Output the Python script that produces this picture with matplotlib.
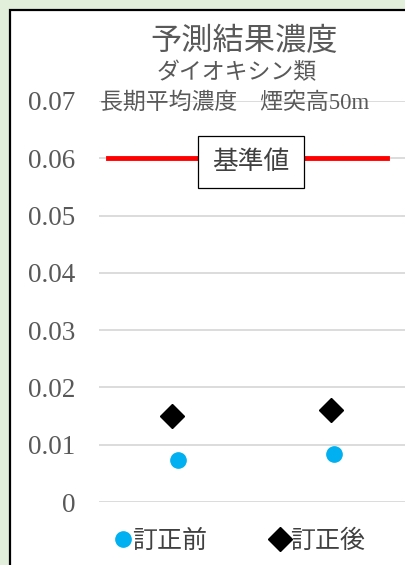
import matplotlib.pyplot as plt
import matplotlib.transforms as mtransforms
from matplotlib.patches import Rectangle

plt.rcParams['font.family'] = ['Liberation Serif', 'Noto Sans CJK JP']

# data
series_names = ['訂正前', '訂正後']
before_x = [1.0, 1.99]
before_y = [0.0073, 0.0084]
after_x = [0.96, 1.97]
after_y = [0.0150, 0.0161]
standard_value = 0.06
yticks = [0, 0.01, 0.02, 0.03, 0.04, 0.05, 0.06, 0.07]
ytick_labels = ['0', '0.01', '0.02', '0.03', '0.04', '0.05', '0.06', '0.07']

title_lines = ['予測結果濃度', 'ダイオキシン類', '長期平均濃度　煙突高50m']

text_grey = '#595959'
W, H = 406, 565

fig = plt.figure(figsize=(W / 100, H / 100), dpi=100)
fig.patch.set_facecolor('#e2efda')

# white chart area with black frame (runs off right and bottom edges)
frame = Rectangle((10 / W, -0.05), 1.0, 1 - 10 / H + 0.05, transform=fig.transFigure,
                  facecolor='white', edgecolor='black', linewidth=1.6, zorder=-1)
fig.patches.append(frame)

ax = fig.add_axes([99 / W, (H - 502) / H, 316 / W, 401 / H])
ax.set_zorder(1)
ax.set_facecolor('none')
ax.set_xlim(0.5, 2.5)
ax.set_ylim(0, 0.07)

for s in ax.spines.values():
    s.set_visible(False)
ax.set_xticks([])
ax.set_yticks(yticks)
ax.set_yticklabels(ytick_labels, fontsize=19.5, color=text_grey)
ax.tick_params(axis='y', length=0, pad=17)
ax.grid(axis='y', color='#d9d9d9', linewidth=1.3)
ax.set_axisbelow(True)

# standard line
ax.axhline(standard_value, xmin=(108 - 99) / 316, xmax=(387 - 99) / 316,
           color='#ff0000', linewidth=3.5, zorder=2)
trans = mtransforms.blended_transform_factory(ax.transAxes, ax.transData)
ax.text((251 - 99) / 316, standard_value - 0.0007, '基準値', transform=trans,
        ha='center', va='center', fontsize=18.5, color='#404040',
        bbox=dict(boxstyle='square,pad=0.55', facecolor='white', edgecolor='black', linewidth=0.9),
        zorder=3)

ax.plot(before_x, before_y, linestyle='none', marker='o', markersize=11,
        color='#00b0f0', label=series_names[0], zorder=4, clip_on=False)
ax.plot(after_x, after_y, linestyle='none', marker='D', markersize=12,
        color='black', label=series_names[1], zorder=4, clip_on=False)

leg = fig.legend(loc='center', bbox_to_anchor=(240 / W, (H - 541) / H), ncol=2,
                 frameon=False, fontsize=18, handlelength=0.6, handletextpad=0.1,
                 columnspacing=2.6, markerscale=1.0)
for t in leg.get_texts():
    t.set_color('#404040')

# titles
fig.text(244 / W, 1 - 42 / H, title_lines[0], ha='center', va='center',
         fontsize=22.5, color=text_grey, zorder=2)
fig.text(237 / W, 1 - 74 / H, title_lines[1], ha='center', va='center',
         fontsize=16.5, color=text_grey, zorder=2)
fig.text(235 / W, 1 - 103 / H, title_lines[2], ha='center', va='center',
         fontsize=16.5, color=text_grey, zorder=2)

fig.savefig('out.png', dpi=100, facecolor=fig.get_facecolor())
